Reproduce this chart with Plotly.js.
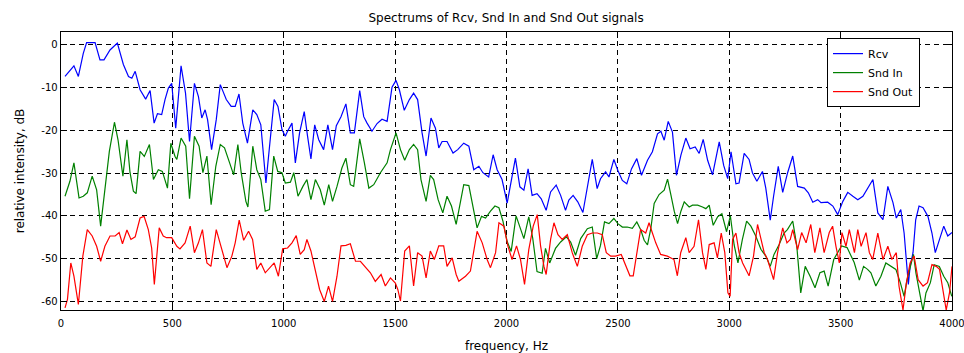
<!DOCTYPE html>
<html>
<head>
<meta charset="utf-8">
<script src="https://cdn.plot.ly/plotly-3.0.1.min.js"></script>
<style>
html,body{margin:0;padding:0;background:#fff;}
#chart{width:964px;height:353px;}
</style>
</head>
<body>
<div id="chart"></div>
<script>
// Rcv (blue)
const rcvFreq = [18,58,78,100,115,153,175,193,220,253,280,303,318,333,355,380,400,418,433,452,467,482,497,515,539,559,577,599,617,632,647,658,676,697,715,742,764,782,799,816,837,861,879,897,920,939,957,974,992,1007,1017,1037,1052,1071,1092,1107,1122,1139,1157,1179,1198,1219,1236,1257,1279,1299,1317,1341,1359,1374,1396,1419,1441,1464,1476,1486,1504,1519,1541,1564,1583,1601,1621,1639,1661,1681,1696,1711,1733,1760,1781,1808,1831,1853,1876,1894,1920,1940,1958,1980,2003,2040,2060,2078,2097,2115,2137,2156,2178,2198,2223,2243,2265,2280,2299,2320,2343,2366,2385,2407,2422,2445,2460,2482,2500,2520,2540,2561,2585,2606,2633,2655,2678,2693,2708,2726,2745,2763,2783,2805,2824,2847,2865,2883,2903,2925,2940,2955,2975,2993,3008,3030,3044,3067,3089,3104,3124,3149,3164,3184,3199,3220,3240,3262,3285,3307,3337,3355,3375,3397,3412,3442,3465,3487,3510,3532,3555,3577,3600,3622,3645,3667,3690,3712,3735,3750,3770,3785,3804,3812,3825,3837,3852,3870,3892,3910,3925,3944,3963,3981,4000];
const rcvDb = [-7.4,-4.9,-7.4,-2,0.5,0.5,-3.5,-3.5,-1.2,0.4,-4.6,-7.4,-7.8,-6.2,-10.5,-12.7,-10.7,-18.3,-16.1,-16.3,-12.8,-10.1,-9,-19.5,-4.9,-11.3,-22.6,-9,-12.1,-17.1,-15.2,-17.5,-24.5,-17.5,-9.3,-12.8,-14.4,-14.4,-11.5,-18.3,-23,-15.2,-16.3,-18.7,-32.3,-22.2,-12.8,-14.4,-19.8,-21.4,-20.2,-18.3,-27.6,-20.6,-15.6,-21.4,-26.7,-18.7,-22.2,-24.5,-18.7,-24.5,-18.9,-16.8,-13.8,-20.6,-20.6,-10.7,-16.8,-18.3,-20.2,-18.4,-17.4,-17.9,-13.6,-9.9,-8.3,-10.5,-15.3,-12.8,-11.3,-12.8,-20.6,-26,-17.1,-19.5,-24.1,-22.6,-22.6,-25.3,-24.5,-23,-23.7,-29.2,-28.4,-29.9,-30.9,-25.7,-29.2,-31.5,-37,-26.5,-33.2,-34,-29,-35.2,-34.8,-36,-38.7,-34.4,-32.8,-35.2,-38.7,-36.3,-35.2,-36.7,-39.2,-32,-26.8,-33.6,-31.3,-29.7,-30.9,-26.8,-29.4,-31.7,-32.5,-29,-26.6,-30.5,-27,-25,-20.8,-20.2,-22.3,-17.9,-20.4,-30.5,-25.8,-21.8,-24.3,-23.9,-25.4,-22.1,-27,-30.4,-26.7,-22.7,-28.2,-31.3,-25,-32.5,-32.3,-25.4,-26.8,-29.9,-31.9,-29.6,-33.5,-41,-35.4,-28.4,-34.5,-29.9,-26,-33.1,-33.5,-34.6,-36.8,-36.2,-36.9,-36.8,-37.7,-39.7,-36.6,-34.5,-35.4,-36.2,-35.4,-33.5,-31.5,-39.3,-40.9,-33.1,-36.9,-40.5,-38.5,-44,-56,-51.8,-48.6,-40.9,-37.7,-38.1,-40.1,-44,-48.6,-45.5,-42.4,-44.7,-43.9];

// Snd In (green)
const sndInFreq = [18,40,58,81,100,118,140,160,178,197,217,240,256,278,296,310,325,337,355,374,397,415,437,455,478,493,512,520,539,560,577,599,620,637,655,674,695,715,734,757,775,794,809,830,839,861,879,897,917,936,955,973,992,1007,1030,1045,1064,1086,1104,1122,1142,1164,1182,1202,1219,1239,1261,1279,1299,1314,1341,1362,1382,1404,1434,1464,1479,1504,1524,1543,1564,1583,1601,1616,1639,1658,1673,1693,1714,1733,1753,1774,1793,1808,1831,1849,1868,1888,1906,1928,1948,1966,1984,2003,2021,2043,2063,2078,2100,2118,2137,2160,2175,2194,2220,2243,2269,2288,2310,2333,2363,2385,2405,2422,2440,2460,2482,2500,2520,2542,2565,2585,2603,2618,2633,2648,2663,2685,2708,2723,2738,2753,2768,2783,2798,2820,2835,2858,2880,2895,2910,2928,2948,2967,2988,3005,3022,3039,3059,3078,3097,3119,3142,3164,3184,3201,3224,3246,3261,3285,3303,3321,3341,3363,3385,3407,3426,3444,3469,3486,3504,3529,3546,3561,3584,3603,3621,3636,3658,3681,3703,3726,3748,3768,3785,3798,3813,3827,3838,3855,3870,3883,3903,3920,3943,3963,3981,3999];
const sndInDb = [-35.4,-31.9,-27.6,-35.8,-35.4,-34.6,-30.7,-33.9,-42.4,-33.1,-24.9,-18.1,-22.2,-30.7,-22.2,-29.9,-34.2,-34.8,-24.9,-26.1,-23.3,-31.5,-29.2,-29.6,-33.5,-23,-26.1,-26.8,-21.8,-23.7,-36,-21.4,-23.7,-29.9,-26,-37.4,-28.4,-23.3,-24.1,-27.6,-30.4,-23.3,-29.9,-36.6,-37.9,-23.7,-29.2,-31.5,-38.9,-38.5,-26,-29.6,-29.9,-32.3,-32.1,-29.9,-35.4,-33.1,-31.5,-36.2,-31.5,-33.9,-37.5,-32.7,-36.6,-33.1,-28.8,-26.5,-32.7,-33.1,-22,-27.6,-33.5,-32.7,-29.9,-27.6,-24.5,-20.6,-24.5,-27,-24.5,-23.3,-24.5,-31.5,-36.6,-30.5,-31.5,-36.2,-39.3,-35.4,-37.7,-42,-36.6,-32.7,-32.9,-37.7,-42.8,-40.1,-40.5,-38.9,-37.7,-38.1,-41.2,-46,-48.3,-40,-42.9,-45.3,-40.2,-45.3,-53,-53.4,-47.6,-51,-47.6,-46.1,-44.9,-46.1,-49.2,-45.3,-43,-42.6,-50,-46.9,-41.4,-41.8,-40.6,-41.8,-42.6,-42.6,-42.9,-41.4,-43.3,-45.7,-46.8,-42.9,-37.1,-35,-34,-31.4,-35.1,-38.9,-41.8,-38.9,-36.7,-37.9,-37.5,-37.5,-37.9,-38.3,-37.5,-42.2,-40.2,-39.5,-43.7,-40,-46.8,-51,-45.5,-41.2,-42.4,-44.7,-47.8,-49.4,-51.8,-49,-46.7,-44,-43.2,-41.2,-46.9,-58,-51.8,-54.1,-56.8,-53.3,-52.9,-56.4,-50.2,-48.6,-47,-47.4,-49.4,-50.9,-55,-51.8,-52.5,-53.3,-56.4,-54.1,-51,-51.8,-52.5,-55.6,-58.8,-55,-51.8,-49,-53.3,-58,-62.2,-58,-55.6,-51.4,-51.8,-54.1,-55.6,-58.8];

// Snd Out (red)
const sndOutFreq = [18,29,44,58,78,98,118,140,160,178,197,220,243,261,276,296,314,333,355,373,392,407,419,441,459,474,497,520,534,557,580,599,617,635,655,673,697,715,733,745,767,782,800,820,842,860,879,897,917,939,957,976,995,1017,1037,1056,1074,1092,1104,1122,1142,1161,1182,1201,1219,1239,1257,1279,1299,1322,1344,1366,1389,1411,1437,1456,1479,1501,1512,1524,1543,1564,1583,1601,1621,1639,1658,1676,1696,1718,1733,1756,1774,1786,1816,1838,1853,1868,1891,1913,1928,1951,1966,1988,2006,2025,2045,2063,2081,2100,2120,2138,2153,2168,2178,2198,2213,2231,2250,2273,2295,2318,2340,2363,2385,2408,2430,2448,2468,2490,2515,2535,2554,2569,2584,2602,2625,2640,2655,2670,2692,2722,2752,2767,2782,2805,2820,2842,2862,2880,2895,2910,2932,2947,2964,2980,2994,3004,3015,3030,3044,3060,3089,3109,3127,3142,3157,3172,3199,3217,3240,3259,3274,3285,3307,3325,3345,3366,3384,3407,3426,3449,3464,3479,3494,3506,3524,3539,3562,3577,3592,3614,3629,3644,3667,3690,3712,3730,3750,3762,3780,3795,3812,3830,3848,3870,3890,3910,3929,3944,3959,3974,3989,4000];
const sndOutDb = [-61.5,-59.5,-51,-54.1,-60.7,-49.4,-43.2,-44.7,-47.1,-50.6,-47.1,-44.7,-44.7,-43.9,-46.5,-43.3,-45.5,-44.9,-40.5,-40.1,-43.2,-47.5,-56,-42.8,-44.7,-45.1,-45.1,-47.1,-47.7,-46.3,-42.4,-48.6,-46.3,-43.2,-51,-51.8,-43.2,-46.7,-50.2,-52.1,-49.4,-46.3,-41,-45.7,-43.6,-45.5,-52.5,-51,-53.3,-52.1,-51,-54.1,-47.7,-47.5,-46.3,-44.6,-49,-47.9,-45.5,-48.2,-52.5,-57.2,-60,-56.4,-60,-54.1,-47,-46.9,-46.5,-50.6,-50.6,-51.8,-53.3,-55.3,-53.7,-56.4,-54.5,-55.7,-57.2,-59.9,-48.2,-47,-56.4,-48.6,-49.4,-54.5,-48.2,-50.2,-47,-47,-51.8,-49.8,-53.7,-55.3,-54.1,-52.9,-48.6,-43.6,-46.3,-50.2,-52.1,-48.6,-41.6,-42.4,-47,-50.2,-47,-50.2,-56,-47.9,-42.4,-39.7,-47,-51.8,-53.7,-45.5,-41.6,-44.4,-45.5,-44.4,-48.6,-51.8,-47.1,-44.4,-44,-44,-44.4,-48.6,-49.4,-49.4,-49,-51.8,-54,-54,-48.6,-43.2,-44,-41.6,-44,-46.3,-49,-49.4,-50.2,-54,-48.6,-45.1,-48.6,-47.1,-40.9,-48.6,-52.5,-46.7,-46.3,-49.8,-44,-48.6,-58,-58.8,-45.5,-44,-48.6,-51,-54,-49.4,-42,-45.5,-48.6,-50.2,-54.9,-48.6,-42.8,-46.3,-45.5,-43.2,-47.9,-43.9,-46.3,-42,-48.6,-42.8,-48.6,-43.9,-42.4,-47.1,-51,-43.9,-47.1,-43.2,-48.6,-43.2,-47.1,-43.9,-48.6,-50.2,-44,-50.2,-47.1,-50.2,-48.6,-56.4,-62,-55.7,-51,-49.4,-54.9,-56.4,-55.6,-51.4,-51.8,-52.5,-57.2,-62,-57.9,-51.8];

const seriesNames = ['Rcv', 'Snd In', 'Snd Out'];
const xTicks = [0,500,1000,1500,2000,2500,3000,3500,4000];
const yTicks = [0,-10,-20,-30,-40,-50,-60];

const FONT = 'DejaVu Sans, sans-serif';
const traces = [
  {x: rcvFreq, y: rcvDb, name: seriesNames[0], line: {color: '#0000ff', width: 1.2}},
  {x: sndInFreq, y: sndInDb, name: seriesNames[1], line: {color: '#008000', width: 1.2}},
  {x: sndOutFreq, y: sndOutDb, name: seriesNames[2], line: {color: '#ff0000', width: 1.2}}
].map(t => Object.assign({type: 'scatter', mode: 'lines'}, t));

const axisCommon = {
  showline: true, linecolor: '#000', linewidth: 1.3, mirror: 'allticks',
  ticks: 'inside', ticklen: 6, tickcolor: '#000', tickwidth: 1,
  showgrid: true, gridcolor: '#000', gridwidth: 1, griddash: '5px,4px',
  zeroline: false, tickfont: {family: FONT, size: 10, color: '#000'},
  ticklabeloverflow: 'allow'
};

const layout = {
  width: 964, height: 353,
  margin: {l: 61, r: 12, t: 32, b: 43},
  paper_bgcolor: '#fff', plot_bgcolor: '#fff',
  title: {text: 'Spectrums of Rcv, Snd In and Snd Out signals', font: {family: FONT, size: 12, color: '#000'}, x: 0.525, xanchor: 'center', y: 0.95, yanchor: 'middle'},
  xaxis: Object.assign({}, axisCommon, {range: [0, 4000], tickvals: xTicks, ticktext: xTicks.map(String),
    ticklabelstandoff: 4,
    title: {text: 'frequency, Hz', font: {family: FONT, size: 12, color: '#000'}, standoff: 25}}),
  yaxis: Object.assign({}, axisCommon, {range: [-62, 3], tickvals: yTicks, ticktext: yTicks.map(String),
    title: {text: 'relative intensity, dB', font: {family: FONT, size: 12, color: '#000'}, standoff: 14}}),
  showlegend: true,
  legend: {x: 0.8597, xanchor: 'left', y: 0.978, yanchor: 'top', bgcolor: '#fff', bordercolor: '#000', borderwidth: 1,
    font: {family: FONT, size: 11, color: '#000'}, itemwidth: 30, tracegroupgap: 0}
};

Plotly.newPlot('chart', traces, layout, {displayModeBar: false, staticPlot: true});
</script>
</body>
</html>
